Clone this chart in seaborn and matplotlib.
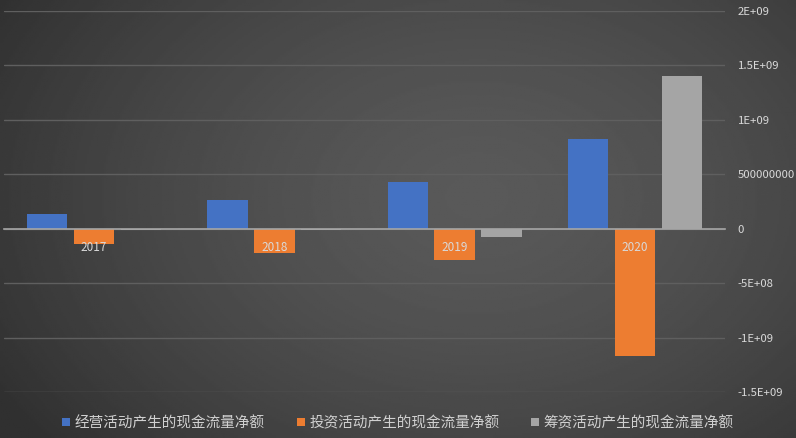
import numpy as np
import pandas as pd
import matplotlib.pyplot as plt
import seaborn as sns

years = ["2017", "2018", "2019", "2020"]
series = ["经营活动产生的现金流量净额", "投资活动产生的现金流量净额", "筹资活动产生的现金流量净额"]
operating = [1.38e8, 2.67e8, 4.3e8, 8.2e8]
investing = [-1.4e8, -2.2e8, -2.85e8, -1.17e9]
financing = [-1.0e7, -1.5e7, -8.0e7, 1.4e9]
colors = ["#4472C4", "#ED7D31", "#A5A5A5"]
yticks = [-1.5e9, -1e9, -5e8, 0, 5e8, 1e9, 1.5e9, 2e9]
ytick_labels = ["-1.5E+09", "-1E+09", "-5E+08", "0", "500000000", "1E+09", "1.5E+09", "2E+09"]

df = pd.DataFrame({
    "year": years * 3,
    "series": np.repeat(series, len(years)),
    "value": operating + investing + financing,
})

sns.set_theme(style="dark")
plt.rcParams['font.family'] = ['Noto Sans CJK SC', 'DejaVu Sans']

fig = plt.figure(figsize=(7.96, 4.38), dpi=100)

# radial grey background like the Excel chart style
bg = fig.add_axes([0, 0, 1, 1], zorder=0)
yy, xx = np.mgrid[0:1:220j, 0:1:400j]
r = np.sqrt(((xx - 0.6) / 0.7) ** 2 + ((yy - 0.45) / 0.9) ** 2)
shade = 0.35 - 0.16 * np.clip(r, 0, 1) ** 1.5
bg.imshow(shade, cmap="gray", vmin=0, vmax=1, extent=[0, 1, 0, 1], aspect="auto")
bg.axis("off")

ax = fig.add_axes([4 / 796, 1 - 392 / 438, 721 / 796, 381 / 438], zorder=1)
ax.patch.set_alpha(0)
sns.barplot(data=df, x="year", y="value", hue="series", palette=colors,
            width=0.78, gap=0.14, saturation=1, errorbar=None, linewidth=0, ax=ax)

ax.set_ylim(-1.5e9, 2e9)
ax.set_xlim(-0.5, 3.5)
ax.set_yticks(yticks)
ax.set_yticklabels(ytick_labels)
ax.yaxis.tick_right()
ax.set_xlabel("")
ax.set_ylabel("")
ax.set_axisbelow(True)
ax.grid(axis="y", color="#5f5f5f", lw=1)
ax.grid(axis="x", visible=False)

for s in ["left", "right", "top"]:
    ax.spines[s].set_visible(False)
ax.spines["bottom"].set_position(("data", 0))
ax.spines["bottom"].set_color("#a6a6a6")
ax.spines["bottom"].set_linewidth(1.2)

ax.tick_params(axis="y", length=0, pad=9, labelsize=8.2, labelcolor="#d9d9d9")
ax.tick_params(axis="x", length=0, pad=9, labelsize=8.5, labelcolor="#d9d9d9")
ax.xaxis.set_zorder(5)

handles, labels = ax.get_legend_handles_labels()
ax.get_legend().remove()
leg = fig.legend(handles, labels, loc="center", bbox_to_anchor=(0.5, 1 - 423 / 438),
                 ncol=3, frameon=False, fontsize=10.5, handlelength=0.55, handleheight=0.55,
                 handletextpad=0.3, columnspacing=2.2)
for t in leg.get_texts():
    t.set_color("#d0d0d0")

fig.savefig("out.png", dpi=100)
